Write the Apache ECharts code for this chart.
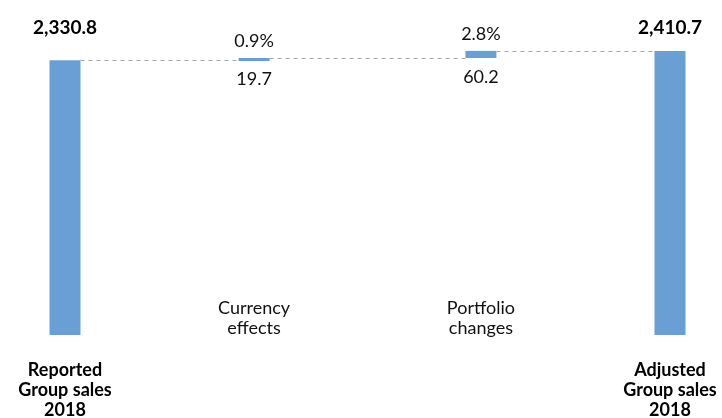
<!DOCTYPE html>
<html>
<head>
<meta charset="utf-8">
<style>
  html, body { margin: 0; padding: 0; background: #ffffff; }
  #chart { width: 722px; height: 418px; }
</style>
<script src="https://cdn.jsdelivr.net/npm/echarts@6.0.0/dist/echarts.min.js"></script>
</head>
<body>
<div id="chart"></div>
<script>
const categories = ["Reported\nGroup sales\n2018", "Currency\neffects", "Portfolio\nchanges", "Adjusted\nGroup sales\n2018"];
const slots = [0, 5, 11, 16];
const values = [2330.8, 19.7, 60.2, 2410.7];
const shares = [null, "0.9%", "2.8%", null];
const isTotal = [true, false, false, true];

const FONT = "Lato, 'Open Sans', sans-serif";
const BAR_COLOR = "#6a9fd6";
const BAR_W = 31;

// running start/end for the waterfall
let running = 0;
const bars = values.map((v, i) => {
  let start, end;
  if (isTotal[i]) {
    start = 0;
    end = v;
  } else {
    start = running;
    end = running + v;
  }
  running = end;
  return [slots[i], start, end, i];
});

const fmt = (v) => v.toLocaleString("en-US", { minimumFractionDigits: 1, maximumFractionDigits: 1 });

function renderItem(params, api) {
  const i = api.value(3);
  const x = slots[i];
  const p0 = api.coord([x, api.value(1)]);
  const p1 = api.coord([x, api.value(2)]);
  const top = Math.min(p0[1], p1[1]);
  const bottom = Math.max(p0[1], p1[1]);
  const cx = p0[0];
  const base = api.coord([x, 0])[1];
  const grid = params.coordSys;
  const children = [];

  children.push({
    type: "rect",
    shape: { x: cx - BAR_W / 2, y: top, width: BAR_W, height: Math.max(bottom - top, 3) },
    style: { fill: BAR_COLOR },
  });

  // connector to next bar
  if (i < bars.length - 1) {
    const nx = api.coord([slots[i + 1], 0])[0];
    const ly = Math.round(p1[1]) + 0.5;
    children.push({
      type: "line",
      shape: { x1: cx + BAR_W / 2, y1: ly, x2: nx - BAR_W / 2, y2: ly },
      style: { stroke: "#a6a6a6", lineWidth: 1, lineDash: [4, 4] },
    });
  }

  if (isTotal[i]) {
    children.push({
      type: "text",
      x: cx,
      y: grid.y + 32,
      style: { text: fmt(values[i]), fill: "#000", fontFamily: FONT, fontSize: 19, fontWeight: "bold", align: "center", verticalAlign: "bottom" },
    });
    children.push({
      type: "text",
      x: cx,
      y: base + 55,
      style: { text: categories[i], fill: "#000", fontFamily: FONT, fontSize: 18, fontWeight: "bold", lineHeight: 20, align: "center", verticalAlign: "middle" },
    });
  } else {
    children.push({
      type: "text",
      x: cx,
      y: top - 17,
      style: { text: shares[i], fill: "#111", fontFamily: FONT, fontSize: 18, align: "center", verticalAlign: "middle" },
    });
    children.push({
      type: "text",
      x: cx,
      y: bottom + 19,
      style: { text: fmt(values[i]), fill: "#111", fontFamily: FONT, fontSize: 18, align: "center", verticalAlign: "middle" },
    });
    children.push({
      type: "text",
      x: cx,
      y: base - 17,
      style: { text: categories[i], fill: "#111", fontFamily: FONT, fontSize: 18, lineHeight: 20, align: "center", verticalAlign: "middle" },
    });
  }

  return { type: "group", children };
}

const chart = echarts.init(document.getElementById("chart"), null, { renderer: "canvas" });
chart.setOption({
  animation: false,
  backgroundColor: "#ffffff",
  grid: { left: 65, right: 52, top: 5, bottom: 83 },
  xAxis: { type: "value", min: 0, max: 16, show: false },
  yAxis: { type: "value", min: 0, max: 2800, show: false },
  series: [
    {
      type: "custom",
      renderItem,
      clip: false,
      data: bars,
      encode: { x: 0, y: [1, 2] },
    },
  ],
});
</script>
</body>
</html>
